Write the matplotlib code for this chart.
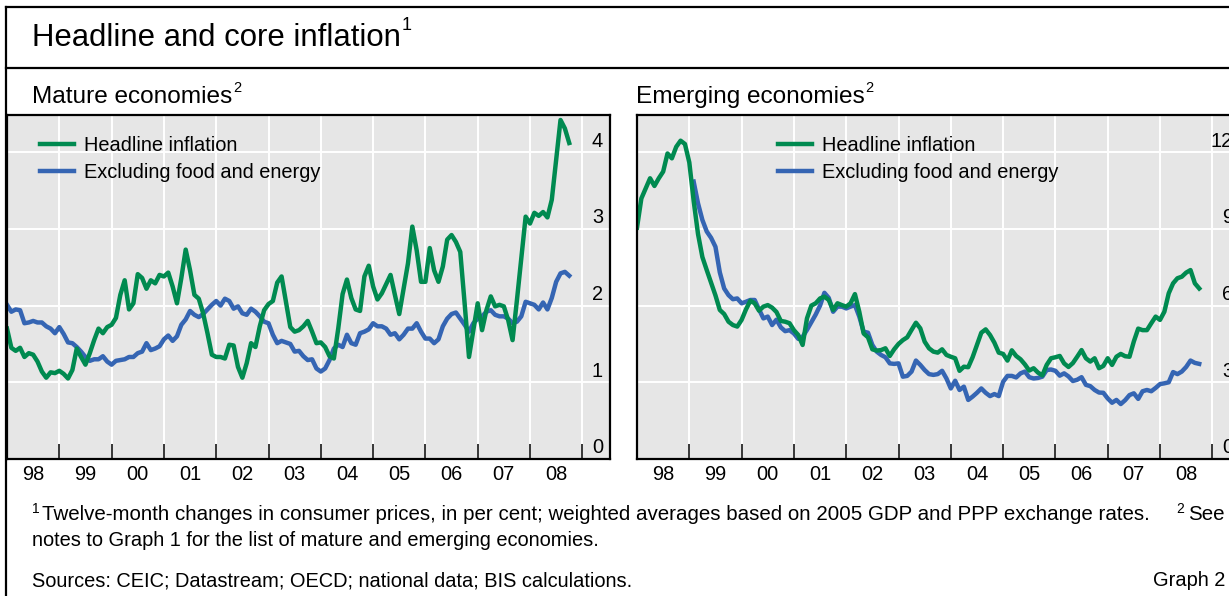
import numpy as np
import matplotlib
matplotlib.use("Agg")
import matplotlib.pyplot as plt
from matplotlib.lines import Line2D

plt.rcParams['font.family'] = ['Liberation Sans', 'DejaVu Sans']

W, H, DPI = 1229, 596, 100

start_year = 1998
year_labels = ['98', '99', '00', '01', '02', '03', '04', '05', '06', '07', '08']

# Monthly values, Jan 1998 onwards
mature_headline = [
    1.70, 1.45, 1.41, 1.45, 1.33, 1.38, 1.36, 1.27, 1.14, 1.06, 1.13, 1.12,
    1.15, 1.11, 1.05, 1.16, 1.44, 1.33, 1.23, 1.38, 1.55, 1.70, 1.64, 1.72,
    1.75, 1.84, 2.14, 2.33, 1.95, 2.03, 2.41, 2.36, 2.22, 2.33, 2.29, 2.40,
    2.38, 2.43, 2.25, 2.03, 2.36, 2.73, 2.46, 2.14, 2.09, 1.90, 1.64, 1.36,
    1.33, 1.33, 1.31, 1.49, 1.48, 1.20, 1.06, 1.25, 1.51, 1.46, 1.73, 1.94,
    2.02, 2.06, 2.30, 2.38, 2.05, 1.72, 1.66, 1.68, 1.73, 1.80, 1.66, 1.51,
    1.52, 1.46, 1.34, 1.31, 1.70, 2.15, 2.34, 2.10, 1.95, 1.93, 2.38, 2.52,
    2.25, 2.08, 2.16, 2.28, 2.40, 2.14, 1.89, 2.22, 2.55, 3.03, 2.72, 2.31,
    2.31, 2.75, 2.46, 2.31, 2.51, 2.86, 2.92, 2.83, 2.70, 2.03, 1.33, 1.68,
    2.03, 1.68, 1.94, 2.12, 1.99, 2.01, 1.99, 1.81, 1.55, 2.07, 2.62, 3.16,
    3.07, 3.21, 3.17, 3.22, 3.15, 3.38, 3.90, 4.42, 4.31, 4.12,
]
mature_core = [
    2.01, 1.92, 1.95, 1.94, 1.77, 1.78, 1.80, 1.78, 1.78, 1.73, 1.70, 1.64,
    1.72, 1.63, 1.52, 1.51, 1.46, 1.40, 1.33, 1.28, 1.30, 1.30, 1.34, 1.27,
    1.23, 1.28, 1.29, 1.30, 1.33, 1.33, 1.38, 1.40, 1.51, 1.42, 1.44, 1.47,
    1.56, 1.61, 1.54, 1.60, 1.75, 1.82, 1.93, 1.88, 1.85, 1.89, 1.95, 2.01,
    2.06, 2.00, 2.09, 2.06, 1.96, 1.99, 1.90, 1.88, 1.96, 1.92, 1.86, 1.79,
    1.77, 1.62, 1.51, 1.54, 1.52, 1.50, 1.40, 1.41, 1.34, 1.29, 1.30, 1.18,
    1.14, 1.18, 1.29, 1.44, 1.49, 1.46, 1.62, 1.51, 1.49, 1.64, 1.66, 1.69,
    1.77, 1.73, 1.73, 1.70, 1.62, 1.64, 1.56, 1.62, 1.70, 1.70, 1.77, 1.66,
    1.57, 1.57, 1.51, 1.56, 1.73, 1.83, 1.89, 1.91, 1.83, 1.75, 1.66, 1.77,
    1.83, 1.86, 1.92, 1.94, 1.88, 1.86, 1.86, 1.83, 1.77, 1.79, 1.86, 2.05,
    2.03, 2.01, 1.95, 2.04, 1.95, 2.10, 2.31, 2.42, 2.44, 2.39,
]
emerging_headline = [
    9.05, 10.19, 10.59, 10.98, 10.68, 10.98, 11.24, 11.95, 11.76, 12.21, 12.45, 12.32,
    11.60, 10.10, 8.80, 7.90, 7.39, 6.90, 6.40, 5.83, 5.67, 5.37, 5.24, 5.18,
    5.44, 5.85, 6.19, 6.09, 5.80, 5.96, 6.02, 5.92, 5.75, 5.40, 5.37, 5.31,
    5.04, 4.85, 4.46, 5.50, 6.00, 6.09, 6.28, 6.35, 6.22, 5.83, 6.09, 6.02,
    5.96, 6.09, 6.45, 5.76, 4.91, 4.76, 4.29, 4.24, 4.26, 4.33, 4.03, 4.29,
    4.50, 4.65, 4.76, 5.05, 5.33, 5.11, 4.59, 4.33, 4.20, 4.16, 4.29, 4.07,
    4.00, 3.94, 3.45, 3.61, 3.59, 3.98, 4.46, 4.94, 5.07, 4.85, 4.55, 4.16,
    4.11, 3.85, 4.25, 4.03, 3.90, 3.70, 3.46, 3.55, 3.38, 3.27, 3.68, 3.94,
    3.98, 4.03, 3.74, 3.60, 3.75, 4.00, 4.26, 3.94, 3.81, 3.94, 3.55, 3.64,
    3.94, 3.68, 4.00, 4.11, 4.02, 4.00, 4.60, 5.10, 5.04, 5.04, 5.31, 5.57,
    5.44, 5.76, 6.48, 6.87, 7.07, 7.13, 7.29, 7.39, 6.87, 6.67,
]
emerging_core_start_month = 13  # series begins Feb 1999
emerging_core = [
    10.85, 10.00, 9.35, 8.90, 8.65, 8.30, 7.30, 6.67, 6.41, 6.25, 6.28,
    6.09, 6.15, 6.22, 6.22, 5.85, 5.50, 5.57, 5.24, 5.45, 5.15, 5.00, 5.04,
    4.91, 4.70, 4.78, 5.05, 5.35, 5.65, 6.00, 6.50, 6.30, 5.76, 5.96, 5.96,
    5.89, 5.96, 6.02, 5.57, 4.98, 4.94, 4.46, 4.20, 4.07, 3.98, 3.74, 3.72,
    3.74, 3.22, 3.25, 3.42, 3.85, 3.68, 3.48, 3.32, 3.29, 3.32, 3.45, 3.15,
    2.76, 3.06, 2.70, 2.83, 2.31, 2.44, 2.59, 2.76, 2.59, 2.46, 2.54, 2.46,
    3.02, 3.25, 3.25, 3.19, 3.35, 3.42, 3.20, 3.15, 3.17, 3.22, 3.48, 3.50,
    3.45, 3.26, 3.35, 3.23, 3.05, 3.10, 3.20, 2.90, 2.85, 2.70, 2.60, 2.59,
    2.37, 2.20, 2.31, 2.15, 2.30, 2.50, 2.57, 2.35, 2.65, 2.70, 2.65, 2.78,
    2.93, 2.96, 3.00, 3.40, 3.32, 3.42, 3.60, 3.85, 3.76, 3.72,
]

mature_ticks = [0, 1, 2, 3, 4]
emerging_ticks = [0, 3, 6, 9, 12]

series_labels = ['Headline inflation', 'Excluding food and energy']

GREEN = '#008A50'
BLUE = '#3565B3'
BG = '#E6E6E6'

fig = plt.figure(figsize=(W / DPI, H / DPI), dpi=DPI)
fig.patch.set_facecolor('white')

AX_TOP, AX_BOT = 115, 459
AX_W = 603
PX_PER_YEAR = 52.3


def months_to_x(n, offset=0):
    return start_year + (np.arange(n) + offset) / 12.0


def panel(left_px, ticks, ymax, head, core, core_offset, leg_x_px):
    ax = fig.add_axes([left_px / W, 1 - AX_BOT / H, AX_W / W, (AX_BOT - AX_TOP) / H])
    ax.set_facecolor(BG)
    ax.set_xlim(start_year, start_year + AX_W / PX_PER_YEAR)
    ax.set_ylim(0, ymax)
    years = list(range(start_year + 1, start_year + len(year_labels) + 1))
    ax.set_xticks(years)
    ax.set_xticklabels([])
    ax.set_xticks([start_year + i + 0.5 for i in range(len(year_labels))], minor=True)
    ax.set_xticklabels(year_labels, minor=True, fontsize=14.4)
    ax.tick_params(axis='x', which='major', direction='in', length=10.5, width=1.1,
                   color='black')
    ax.tick_params(axis='x', which='minor', length=0, pad=4.5)
    ax.set_yticks(ticks)
    ax.set_yticklabels([])
    ax.tick_params(axis='y', length=0)
    ax.grid(True, which='major', color='white', lw=1.4)
    ax.set_axisbelow(True)
    for s in ax.spines.values():
        s.set_color('black')
        s.set_linewidth(1.6)
    for t in ticks:
        ax.annotate(str(t), xy=(1, t), xycoords=('axes fraction', 'data'),
                    xytext=(-5, 8), textcoords='offset points',
                    ha='right', va='center', fontsize=14.4)
    xh = months_to_x(len(head))
    xc = months_to_x(len(core), core_offset)
    lc, = ax.plot(xc, core, color=BLUE, lw=3.2, solid_joinstyle='round', label=series_labels[1])
    lh, = ax.plot(xh, head, color=GREEN, lw=3.2, solid_joinstyle='round', label=series_labels[0])
    ax.legend([lh, lc], series_labels, loc='upper left',
              bbox_to_anchor=((leg_x_px - left_px) / AX_W, (AX_BOT - 136) / (AX_BOT - AX_TOP)),
              frameon=False, fontsize=14.4, handlelength=1.7, handletextpad=0.5,
              borderpad=0, borderaxespad=0, labelspacing=0.4)
    return ax


panel(7, mature_ticks, 4.485, mature_headline, mature_core, 0, 40)
panel(637, emerging_ticks, 13.455, emerging_headline, emerging_core,
      emerging_core_start_month, 778)

# frame lines
def hline(y, x0, x1):
    fig.add_artist(Line2D([x0 / W, x1 / W], [1 - y / H, 1 - y / H],
                          transform=fig.transFigure, color='black', lw=1.6))

def vline(x, y0, y1):
    fig.add_artist(Line2D([x / W, x / W], [1 - y0 / H, 1 - y1 / H],
                          transform=fig.transFigure, color='black', lw=1.6))

hline(7, 6, W)
hline(68, 6, W)
vline(6.5, 7, H)

fig.canvas.draw()
renderer = fig.canvas.get_renderer()


def text_sup(x, y, main, sup, size, supsize, dy):
    t = fig.text(x / W, 1 - y / H, main, fontsize=size, va='center', ha='left')
    bb = t.get_window_extent(renderer=renderer)
    fig.text((bb.x1 + 1) / W, 1 - (y - dy) / H, sup, fontsize=supsize, va='center', ha='left')


text_sup(32, 38, 'Headline and core inflation', '1', 22.4, 13, 12)
text_sup(32, 97, 'Mature economies', '2', 17.6, 10.5, 9)
text_sup(636, 97, 'Emerging economies', '2', 17.6, 10.5, 9)

fig.text(32 / W, 1 - 509 / H, '1', fontsize=10, va='center', ha='left')
fig.text(42 / W, 1 - 514 / H,
         'Twelve-month changes in consumer prices, in per cent; weighted averages based on 2005 GDP and PPP exchange rates.',
         fontsize=14.8, va='center', ha='left')
t_see = fig.text(1225 / W, 1 - 514 / H, 'See', fontsize=14.8, va='center', ha='right')
bb = t_see.get_window_extent(renderer=renderer)
fig.text((bb.x0 - 4) / W, 1 - 509 / H, '2', fontsize=10, va='center', ha='right')
fig.text(32 / W, 1 - 541 / H, 'notes to Graph 1 for the list of mature and emerging economies.',
         fontsize=14.4, va='center', ha='left')
fig.text(32 / W, 1 - 581 / H, 'Sources: CEIC; Datastream; OECD; national data; BIS calculations.',
         fontsize=14.4, va='center', ha='left')
fig.text(1225 / W, 1 - 581 / H, 'Graph 2', fontsize=14.4, va='center', ha='right')

fig.savefig('out.png', dpi=DPI)
